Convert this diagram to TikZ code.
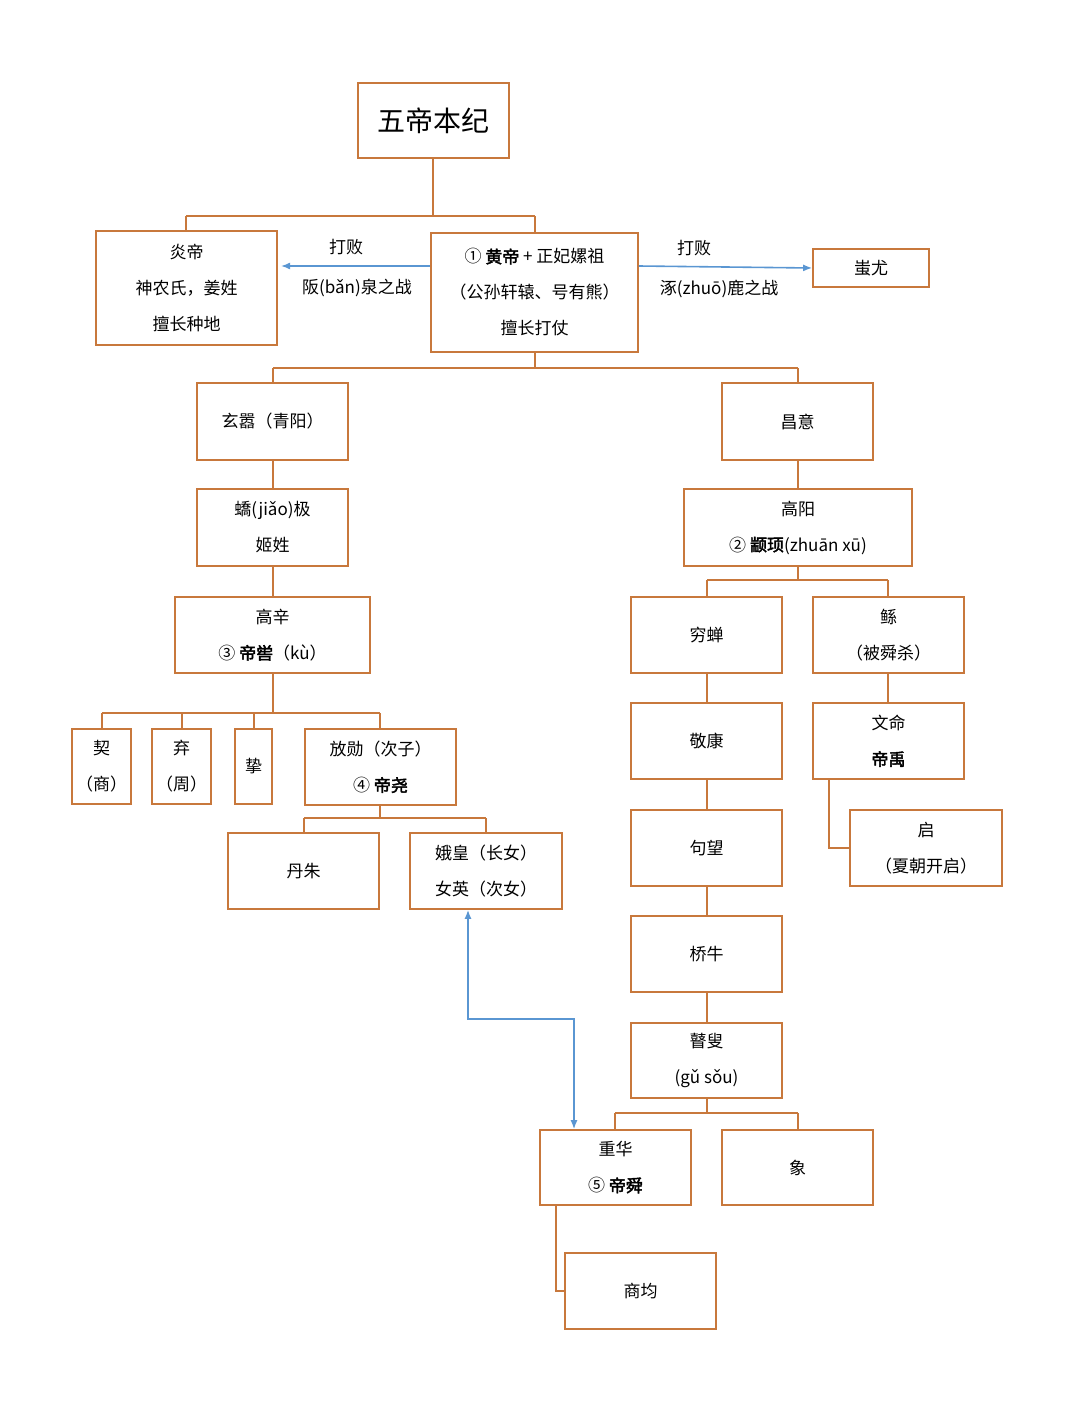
\documentclass[tikz,border=0pt]{standalone}
\usepackage{fontspec}
\setmainfont{Noto Sans CJK SC}[AutoFakeBold=2.5]
\usetikzlibrary{arrows.meta}
\definecolor{ob}{RGB}{200,120,60}
\definecolor{bl}{RGB}{90,150,210}
\tikzset{
 bx/.style={draw=ob,line width=1.6pt,fill=white,align=center,inner sep=0pt,font=\fontsize{17}{36}\selectfont},
 ln/.style={draw=ob,line width=1.6pt},
 ar/.style={draw=bl,line width=1.6pt,-{Latex[length=9pt,width=7pt]}},
 lb/.style={font=\fontsize{17}{20}\selectfont}
}
\newcommand{\bxx}[6]{\node[bx,minimum width=#4-#2,minimum height=#5-#3] (#1) at ({(#2+#4)/2},{(#3+#5)/2}) {#6};}
\begin{document}
\begin{tikzpicture}[x=1pt,y=-1pt]
\useasboundingbox (0,0) rectangle (1080,1410);
% connectors
\draw[ln] (433,158) -- (433,216) (186,216) -- (535,216) (186,216) -- (186,231) (535,216) -- (535,233);
\draw[ln] (535,352) -- (535,368) (273,368) -- (798,368) (273,368)--(273,383) (798,368)--(798,383);
\draw[ln] (273,460)--(273,489) (273,566)--(273,597) (273,673)--(273,713) (102,713)--(380,713);
\foreach \x in {102,182,254,380} \draw[ln] (\x,713)--(\x,729);
\draw[ln] (798,460)--(798,489) (798,566)--(798,580) (707,580)--(888,580) (707,580)--(707,597) (888,580)--(888,597);
\draw[ln] (707,673)--(707,703) (707,779)--(707,810) (707,886)--(707,916) (707,992)--(707,1023);
\draw[ln] (888,673)--(888,703) (829,779)--(829,848)--(850,848);
\draw[ln] (380,805)--(380,818) (304,818)--(486,818) (304,818)--(304,833) (486,818)--(486,833);
\draw[ln] (707,1098)--(707,1113) (615,1113)--(798,1113) (615,1113)--(615,1130) (798,1113)--(798,1130);
\draw[ln] (556,1205)--(556,1291)--(565,1291);
% boxes
\node[bx,minimum width=151,minimum height=75,font=\fontsize{28}{32}\selectfont] (t) at (433.5,120.5) {五帝本纪};
\bxx{yan}{96}{231}{277}{345}{炎帝\\神农氏，姜姓\\擅长种地}
\bxx{huang}{431}{233}{638}{352}{① \textbf{黄帝} + 正妃嫘祖\\（公孙轩辕、号有熊）\\擅长打仗}
\bxx{chi}{813}{249}{929}{287}{蚩尤}
\bxx{xuan}{197}{383}{348}{460}{玄嚣（青阳）}
\bxx{chang}{722}{383}{873}{460}{昌意}
\bxx{jiao}{197}{489}{348}{566}{蟜(jiǎo)极\\姬姓}
\bxx{gaoy}{684}{489}{912}{566}{高阳\\② \textbf{颛顼}(zhuān xū)}
\bxx{gaox}{175}{597}{370}{673}{高辛\\③ \textbf{帝喾}（kù）}
\bxx{qiong}{631}{597}{782}{673}{穷蝉}
\bxx{gun}{813}{597}{964}{673}{鲧\\（被舜杀）}
\bxx{xie}{72}{729}{131}{804}{契\\（商）}
\bxx{qi}{152}{729}{211}{804}{弃\\（周）}
\bxx{zhi}{235}{729}{272}{804}{挚}
\bxx{fang}{305}{729}{456}{805}{放勋（次子）\\④ \textbf{帝尧}}
\bxx{jing}{631}{703}{782}{779}{敬康}
\bxx{wen}{813}{703}{964}{779}{文命\\\textbf{帝禹}}
\bxx{qii}{850}{810}{1002}{886}{启\\（夏朝开启）}
\bxx{gou}{631}{810}{782}{886}{句望}
\bxx{dan}{228}{833}{379}{909}{丹朱}
\bxx{e}{410}{833}{562}{909}{娥皇（长女）\\女英（次女）}
\bxx{qn}{631}{916}{782}{992}{桥牛}
\bxx{gu}{631}{1023}{782}{1098}{瞽叟\\(gǔ sǒu)}
\bxx{chong}{540}{1130}{691}{1205}{重华\\⑤ \textbf{帝舜}}
\bxx{xiang}{722}{1130}{873}{1205}{象}
\bxx{shang}{565}{1253}{716}{1329}{商均}
% blue arrows
\draw[ar] (huang.west |- 0,266) -- (281,266);
\node[lb] at (346,247) {打败};
\node[lb] at (357,288) {阪(bǎn)泉之战};
\draw[ar] (huang.east |- 0,266) -- (chi.west |- 0,268);
\node[lb] at (694,248) {打败};
\node[lb] at (719,289) {涿(zhuō)鹿之战};
\draw[draw=bl,line width=1.6pt,{Latex[length=9pt,width=7pt]}-{Latex[length=9pt,width=7pt]}] (e.south -| 468,0) -- (468,1019) -- (574,1019) -- (chong.north -| 574,0);
\end{tikzpicture}
\end{document}
